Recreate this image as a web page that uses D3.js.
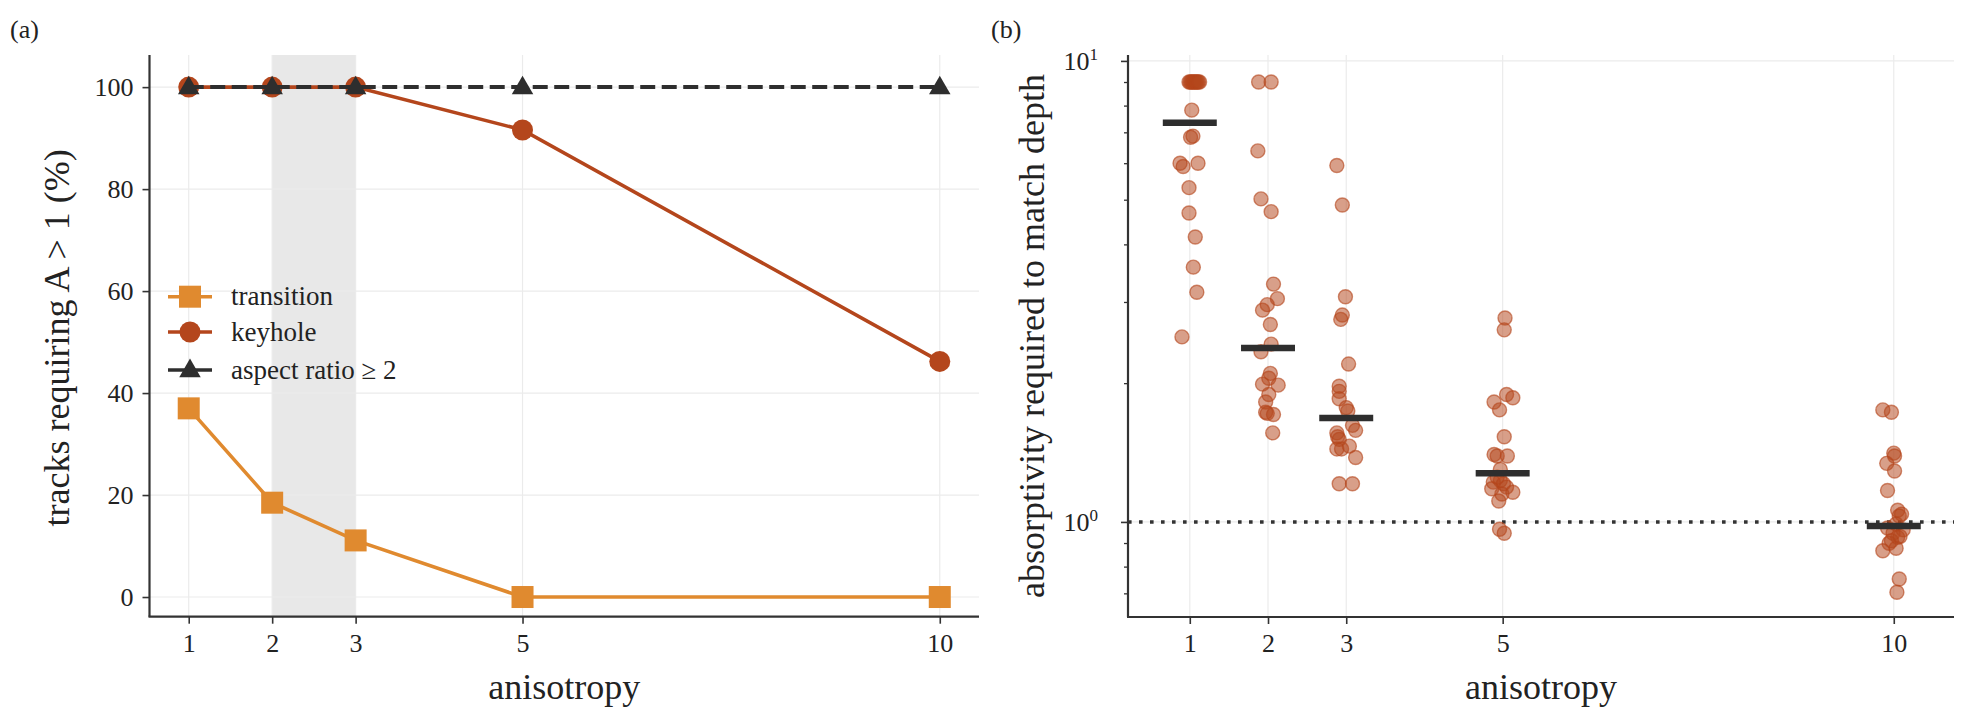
<!DOCTYPE html>
<html>
<head>
<meta charset="utf-8">
<script src="https://cdn.jsdelivr.net/npm/d3@7"></script>
<style>
	body { margin: 0; background: #fff; }
	svg text { font-family: "Liberation Serif", "Times New Roman", serif; fill: #222; }
</style>
</head>
<body>
<svg id="fig" width="1970" height="725"></svg>
<script>
// ---- panel (a) data ----
var anisotropy = [1, 2, 3, 5, 10];
var transition = [37.0, 18.5, 11.1, 0, 0];
var keyhole = [100, 100, 100, 91.6, 46.2];
var aspectRatio = [100, 100, 100, 100, 100];
var shadeRange = [2, 3];
var yTicksA = [0, 20, 40, 60, 80, 100];

// ---- panel (b) data: absorptivity per track, plus the jitter offset ----
var abs1 = [9, 9, 9, 9, 9, 9, 9, 9, 9, 9, 7.82, 6.83, 6.87, 6.0, 5.9, 6.0, 5.31, 4.68, 4.15, 3.57, 3.15, 2.52];
var jit1 = [-0.01, 0.005, 0.02, 0.035, 0.05, 0.065, 0.08, 0.095, 0.11, 0.125, 0.025, 0.01, 0.04, -0.125, -0.085, 0.105, -0.01, -0.01, 0.07, 0.045, 0.09, -0.10];
var abs2 = [9, 9, 6.38, 5.02, 4.71, 3.28, 3.05, 2.96, 2.88, 2.68, 2.43, 2.34, 2.10, 2.05, 1.99, 1.98, 1.89, 1.82, 1.73, 1.71, 1.72, 1.56];
var jit2 = [-0.12, 0.04, -0.13, -0.09, 0.04, 0.07, 0.12, -0.01, -0.07, 0.03, 0.04, -0.09, 0.03, 0.01, -0.07, 0.13, 0.01, -0.03, -0.03, 0.07, -0.01, 0.06];
var abs3 = [5.93, 4.87, 3.08, 2.81, 2.75, 2.20, 1.97, 1.92, 1.85, 1.77, 1.74, 1.62, 1.58, 1.56, 1.53, 1.51, 1.46, 1.44, 1.44, 1.38, 1.21, 1.21];
var jit3 = [-0.12, -0.05, -0.01, -0.05, -0.07, 0.03, -0.09, -0.09, -0.09, 0.0, 0.02, 0.08, 0.12, -0.12, -0.11, -0.09, 0.04, -0.12, -0.06, 0.12, -0.09, 0.08];
var abs5 = [2.77, 2.61, 1.89, 1.86, 1.82, 1.75, 1.53, 1.40, 1.39, 1.39, 1.30, 1.25, 1.23, 1.22, 1.21, 1.19, 1.18, 1.16, 1.15, 1.11, 0.964, 0.945];
var jit5 = [0.03, 0.02, 0.05, 0.13, -0.11, -0.04, 0.02, -0.11, -0.07, 0.06, -0.03, -0.07, -0.03, -0.12, 0.01, 0.05, -0.14, 0.13, -0.01, -0.05, -0.04, 0.02];
var abs10 = [1.75, 1.73, 1.41, 1.39, 1.34, 1.29, 1.17, 1.06, 1.04, 1.03, 0.99, 0.97, 0.961, 0.945, 0.93, 0.926, 0.91, 0.899, 0.877, 0.866, 0.752, 0.704];
var jit10 = [-0.14, -0.03, 0.0, 0.01, -0.09, 0.01, -0.08, 0.05, 0.10, 0.07, 0.03, -0.08, 0.12, -0.01, 0.08, 0.05, -0.03, -0.06, 0.03, -0.14, 0.07, 0.04];
var absGroups = [abs1, abs2, abs3, abs5, abs10];
var jitGroups = [jit1, jit2, jit3, jit5, jit10];
var minorTicksB = [0.7, 0.8, 0.9, 2, 3, 4, 5, 6, 7, 8, 9];

var cOrange = "#e08a2f";
var cRust = "#b4461c";
var cDark = "#2e2e2e";
var cSpine = "#333";
var cGrid = "#ebebeb";

var svg = d3.select("#fig");

function styleAxis(g) {
	g.selectAll(".domain").remove();
	g.selectAll(".tick line").attr("stroke", cSpine).attr("stroke-width", 1.6);
	g.selectAll(".tick text").attr("fill", "#222").style("font-size", "26px")
		.style("font-family", "'Liberation Serif', 'Times New Roman', serif");
}

// ===================== panel (a) =====================
setupPanelA();

function setupPanelA() {
	var left = 149.5, right = 979, top = 55, bottom = 616.7;
	var x = d3.scaleLinear().domain([0.53, 10.47]).range([left, right]);
	var y = d3.scaleLinear().domain([-3.86, 106.3]).range([bottom, top]);
	var G = svg.append("g");

	// shaded band
	G.append("rect")
		.attr("x", x(shadeRange[0])).attr("y", top)
		.attr("width", x(shadeRange[1]) - x(shadeRange[0]))
		.attr("height", bottom - top)
		.attr("fill", "#e8e8e8");

	// grid
	G.selectAll(".gx").data(anisotropy).enter().append("line")
		.attr("x1", d => x(d)).attr("x2", d => x(d))
		.attr("y1", top).attr("y2", bottom)
		.attr("stroke", cGrid).attr("stroke-width", 1.2);
	G.selectAll(".gy").data(yTicksA).enter().append("line")
		.attr("x1", left).attr("x2", right)
		.attr("y1", d => y(d)).attr("y2", d => y(d))
		.attr("stroke", cGrid).attr("stroke-width", 1.2);

	var line = d3.line().x(d => x(d[0])).y(d => y(d[1]));

	// transition
	var tr = anisotropy.map((a, i) => [a, transition[i]]);
	G.append("path").datum(tr).attr("d", line)
		.attr("fill", "none").attr("stroke", cOrange).attr("stroke-width", 3.6);
	G.selectAll(".sq").data(tr).enter().append("rect")
		.attr("x", d => x(d[0]) - 11).attr("y", d => y(d[1]) - 11)
		.attr("width", 22).attr("height", 22).attr("fill", cOrange);

	// keyhole
	var kh = anisotropy.map((a, i) => [a, keyhole[i]]);
	G.append("path").datum(kh).attr("d", line)
		.attr("fill", "none").attr("stroke", cRust).attr("stroke-width", 3.6);
	G.selectAll(".ci").data(kh).enter().append("circle")
		.attr("cx", d => x(d[0])).attr("cy", d => y(d[1]))
		.attr("r", 10.5).attr("fill", cRust);

	// aspect ratio >= 2
	var ar = anisotropy.map((a, i) => [a, aspectRatio[i]]);
	G.append("path").datum(ar).attr("d", line)
		.attr("fill", "none").attr("stroke", cDark).attr("stroke-width", 4)
		.attr("stroke-dasharray", "15,6.5");
	var tri = d3.symbol().type(d3.symbolTriangle).size(200);
	G.selectAll(".tr").data(ar).enter().append("path")
		.attr("d", tri)
		.attr("transform", d => "translate(" + x(d[0]) + "," + (y(d[1]) + 1) + ")")
		.attr("fill", cDark);

	// axes
	var xAxis = d3.axisBottom(x).tickValues(anisotropy).tickSize(7).tickPadding(10).tickSizeOuter(0);
	G.append("g").attr("transform", "translate(0," + bottom + ")").call(xAxis).call(styleAxis);
	var yAxis = d3.axisLeft(y).tickValues(yTicksA).tickSize(7).tickPadding(9).tickSizeOuter(0);
	G.append("g").attr("transform", "translate(" + left + ",0)").call(yAxis).call(styleAxis);

	// spines
	G.append("line").attr("x1", left).attr("x2", left).attr("y1", top).attr("y2", bottom)
		.attr("stroke", cSpine).attr("stroke-width", 2.2);
	G.append("line").attr("x1", left - 1).attr("x2", right).attr("y1", bottom).attr("y2", bottom)
		.attr("stroke", cSpine).attr("stroke-width", 2.2);

	// labels
	G.append("text").attr("x", (left + right) / 2).attr("y", 699)
		.style("text-anchor", "middle").style("font-size", "36px").text("anisotropy");
	G.append("text")
		.attr("transform", "translate(69," + ((top + bottom) / 2 + 2) + ") rotate(-90)")
		.style("text-anchor", "middle").style("font-size", "36px")
		.text("tracks requiring A > 1 (%)");
	G.append("text").attr("x", 10).attr("y", 38).style("font-size", "26px").text("(a)");

	// legend
	var legY = [296.7, 332, 370];
	var names = ["transition", "keyhole", "aspect ratio \u2265 2"];
	var cols = [cOrange, cRust, cDark];
	for (var i = 0; i < names.length; i++) {
		G.append("line").attr("x1", 168).attr("x2", 212)
			.attr("y1", legY[i]).attr("y2", legY[i])
			.attr("stroke", cols[i]).attr("stroke-width", 3.6);
		if (i == 0) {
			G.append("rect").attr("x", 179).attr("y", legY[i] - 11)
				.attr("width", 22).attr("height", 22).attr("fill", cols[i]);
		} else if (i == 1) {
			G.append("circle").attr("cx", 190).attr("cy", legY[i]).attr("r", 10.5).attr("fill", cols[i]);
		} else {
			G.append("path").attr("d", tri)
				.attr("transform", "translate(190," + (legY[i] + 1) + ")").attr("fill", cols[i]);
		}
		G.append("text").attr("x", 231).attr("y", legY[i] + 8.5)
			.style("font-size", "27px").text(names[i]);
	}
}

// ===================== panel (b) =====================
setupPanelB();

function setupPanelB() {
	var left = 1128, right = 1954, top = 55, bottom = 617;
	var x = d3.scaleLinear().domain([0.21, 10.77]).range([left, right]);
	var y = d3.scaleLog().domain([0.622, 10.3]).range([bottom, top]);
	var G = svg.append("g");

	// grid
	G.selectAll(".gx").data(anisotropy).enter().append("line")
		.attr("x1", d => x(d)).attr("x2", d => x(d))
		.attr("y1", top).attr("y2", bottom)
		.attr("stroke", cGrid).attr("stroke-width", 1.2);
	G.selectAll(".gy").data([1, 10]).enter().append("line")
		.attr("x1", left).attr("x2", right)
		.attr("y1", d => y(d)).attr("y2", d => y(d))
		.attr("stroke", cGrid).attr("stroke-width", 1.2);

	// reference line at A = 1
	G.append("line").attr("x1", left).attr("x2", right)
		.attr("y1", y(1)).attr("y2", y(1))
		.attr("stroke", "#333").attr("stroke-width", 3.6)
		.attr("stroke-dasharray", "3.6,7.4");

	// points
	anisotropy.forEach(function(a, gi) {
		var pts = absGroups[gi].map((v, i) => [a + jitGroups[gi][i], v]);
		G.selectAll(".p" + gi).data(pts).enter().append("circle")
			.attr("cx", d => x(d[0])).attr("cy", d => y(d[1]))
			.attr("r", 7)
			.attr("fill", cRust).attr("fill-opacity", 0.52)
			.attr("stroke", cRust).attr("stroke-opacity", 0.62).attr("stroke-width", 1.4);
	});

	// medians
	anisotropy.forEach(function(a, gi) {
		var m = d3.median(absGroups[gi]);
		G.append("line")
			.attr("x1", x(a - 0.345)).attr("x2", x(a + 0.345))
			.attr("y1", y(m)).attr("y2", y(m))
			.attr("stroke", cDark).attr("stroke-width", 6.5);
	});

	// axes
	var xAxis = d3.axisBottom(x).tickValues(anisotropy).tickSize(7).tickPadding(10).tickSizeOuter(0);
	G.append("g").attr("transform", "translate(0," + bottom + ")").call(xAxis).call(styleAxis);

	var yMinor = d3.axisLeft(y).tickValues(minorTicksB).tickSize(4).tickFormat("").tickSizeOuter(0);
	G.append("g").attr("transform", "translate(" + left + ",0)").call(yMinor).call(styleAxis)
		.selectAll(".tick line").attr("stroke-width", 1.3);

	var yMajor = d3.axisLeft(y).tickValues([1, 10]).tickSize(7).tickPadding(9).tickSizeOuter(0)
		.tickFormat("");
	var gy = G.append("g").attr("transform", "translate(" + left + ",0)").call(yMajor).call(styleAxis);
	gy.selectAll(".tick").each(function(d) {
		var t = d3.select(this).append("text")
			.attr("x", -30).attr("dy", "0.32em")
			.style("text-anchor", "end").style("font-size", "26px");
		t.append("tspan").text("10");
		t.append("tspan").attr("dy", "-0.55em").style("font-size", "17px")
			.text(Math.round(Math.log10(d)));
	});

	// spines
	G.append("line").attr("x1", left).attr("x2", left).attr("y1", top).attr("y2", bottom)
		.attr("stroke", cSpine).attr("stroke-width", 2.2);
	G.append("line").attr("x1", left - 1).attr("x2", right).attr("y1", bottom).attr("y2", bottom)
		.attr("stroke", cSpine).attr("stroke-width", 2.2);

	// labels
	G.append("text").attr("x", (left + right) / 2).attr("y", 699)
		.style("text-anchor", "middle").style("font-size", "36px").text("anisotropy");
	G.append("text")
		.attr("transform", "translate(1044," + ((top + bottom) / 2) + ") rotate(-90)")
		.style("text-anchor", "middle").style("font-size", "36px")
		.text("absorptivity required to match depth");
	G.append("text").attr("x", 991).attr("y", 38).style("font-size", "26px").text("(b)");
}
</script>
</body>
</html>
